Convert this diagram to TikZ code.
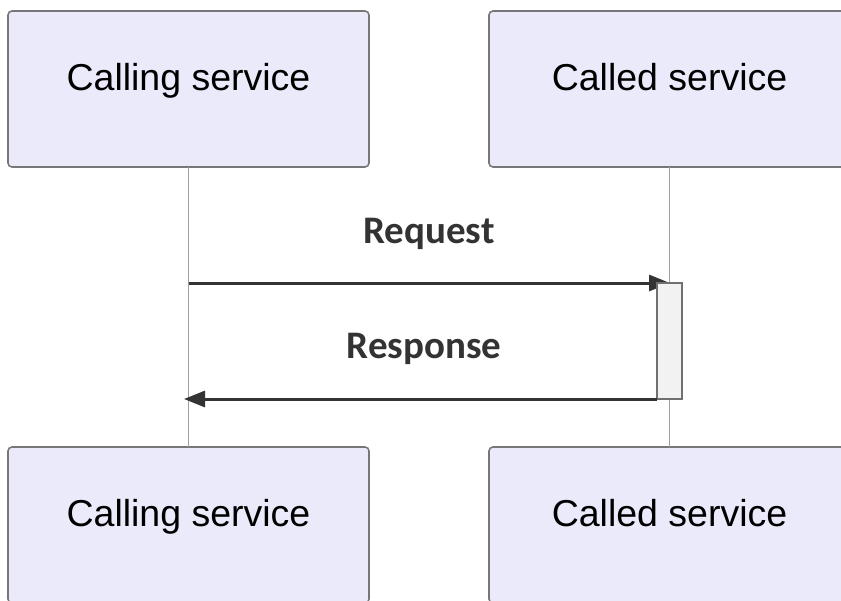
\documentclass[tikz,border=0pt]{standalone}
\usepackage{fontspec}
\setmainfont{Liberation Sans}
\newfontfamily\msgfont{Carlito}
\usetikzlibrary{arrows.meta}
\definecolor{actorfill}{HTML}{EAEAFA}
\definecolor{actorline}{HTML}{777777}
\definecolor{lifeline}{HTML}{A0A0A0}
\definecolor{msgcol}{HTML}{333333}
\definecolor{actfill}{HTML}{F2F2F2}
\definecolor{actline}{HTML}{707070}
\tikzset{
  actor/.style={draw=actorline, fill=actorfill, line width=1.6pt, rounded corners=4pt,
    minimum width=361pt, minimum height=156pt, inner sep=0pt, outer sep=0pt, anchor=north west},
  actortext/.style={anchor=base, font=\fontsize{37.5}{40}\selectfont, text=black, inner sep=0pt},
  msgtext/.style={anchor=base, font=\msgfont\bfseries\fontsize{39}{42}\selectfont, text=msgcol, inner sep=0pt},
  msgline/.style={draw=msgcol, line width=3pt, -{Triangle[length=21pt,width=16pt]}},
  life/.style={draw=lifeline, line width=1.1pt},
  activation/.style={draw=actline, fill=actfill, line width=1.6pt, inner sep=0pt, outer sep=0pt,
    minimum width=25pt, minimum height=116pt, anchor=north west}
}
\begin{document}
\begin{tikzpicture}[x=1pt,y=-1pt]
\useasboundingbox (0,0) rectangle (841,600);
\clip (0,0) rectangle (841,600);
% participants, top and bottom
\node[actor] (calltop) at (8,11) {};
\node[actor] (calledtop) at (489,11) {};
\node[actor] (callbot) at (8,447) {};
\node[actor] (calledbot) at (489,447) {};
\node[actortext] (calltoptext) at (188.5,90) {Calling service};
\node[actortext] (calledtoptext) at (669.5,90) {Called service};
\node[actortext] (callbottext) at (188.5,526) {Calling service};
\node[actortext] (calledbottext) at (669.5,526) {Called service};
% lifelines
\draw[life] (calltop.south) -- (callbot.north);
\draw[life] (calledtop.south) -- (calledbot.north);
% request message
\coordinate (reqstart) at (188.5,283);
\coordinate (reqend) at (670,283);
\draw[msgline] (reqstart) -- (reqend);
\node[msgtext] (reqlabel) at (429,243) {Request};
% activation bar on the called service
\node[activation] (act) at (657,283) {};
% response message
\coordinate (respend) at (184,399);
\draw[msgline] (act.south west) -- (respend);
\node[msgtext] (resplabel) at (424,358) {Response};
\end{tikzpicture}
\end{document}
